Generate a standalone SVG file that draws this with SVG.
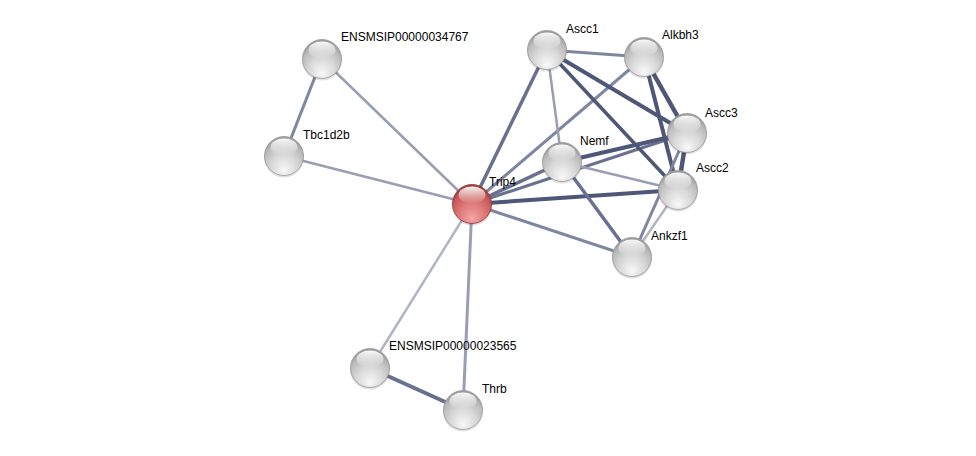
<svg xmlns="http://www.w3.org/2000/svg" xmlns:xlink="http://www.w3.org/1999/xlink" width="976" height="456" viewBox="0 0 976 456">
<defs>
<radialGradient id="gGray" cx="0.5" cy="0.72" r="0.66" fx="0.5" fy="0.88">
<stop offset="0" stop-color="#f8f8f8"/>
<stop offset="0.5" stop-color="#d8d8d8"/>
<stop offset="0.82" stop-color="#bcbcbc"/>
<stop offset="1" stop-color="#9c9c9c"/>
</radialGradient>
<radialGradient id="gRed" cx="0.5" cy="0.72" r="0.66" fx="0.5" fy="0.88">
<stop offset="0" stop-color="#f6a6a6"/>
<stop offset="0.5" stop-color="#de7878"/>
<stop offset="0.82" stop-color="#c85858"/>
<stop offset="1" stop-color="#a03c3c"/>
</radialGradient>
<linearGradient id="hl" x1="0" y1="0" x2="0" y2="1">
<stop offset="0" stop-color="#ffffff" stop-opacity="0.95"/>
<stop offset="1" stop-color="#ffffff" stop-opacity="0"/>
</linearGradient>
<g id="ballGray">
<circle cy="1.5" r="20" fill="#000000" fill-opacity="0.12"/>
<circle r="19.5" fill="url(#gGray)" stroke="#9a9a9a" stroke-width="0.8"/>
<ellipse cx="0" cy="-9" rx="13.5" ry="8.5" fill="url(#hl)"/>
</g>
<g id="ballRed">
<circle cy="1.5" r="20" fill="#000000" fill-opacity="0.12"/>
<circle r="19.5" fill="url(#gRed)" stroke="#943535" stroke-width="0.8"/>
<ellipse cx="0" cy="-9" rx="13.5" ry="8.5" fill="url(#hl)"/>
</g>
</defs>
<style>
text { font-family: "Liberation Sans", Arial, sans-serif; font-size: 12px; fill: #000; }
line { stroke-linecap: butt; }
.d { stroke: #4f5779; }
.m { stroke: #6a7190; }
.n { stroke: #7f86a2; }
.l { stroke: #999eb5; }
.x { stroke: #b0b4c6; }
</style>
<rect width="976" height="456" fill="#ffffff"/>
<g id="edges">
<line class="n" x1="322" y1="59" x2="284" y2="156" stroke-width="3"/>
<line class="l" x1="322" y1="59" x2="472" y2="204" stroke-width="2.5"/>
<line class="l" x1="284" y1="156" x2="472" y2="204" stroke-width="2.5"/>
<line class="m" x1="472" y1="204" x2="547" y2="50" stroke-width="3.5"/>
<line class="n" x1="472" y1="204" x2="644" y2="57" stroke-width="3"/>
<line class="m" x1="472" y1="204" x2="562" y2="162" stroke-width="3.5"/>
<line class="m" x1="472" y1="204" x2="687" y2="133" stroke-width="3"/>
<line class="d" x1="472" y1="204" x2="678" y2="190" stroke-width="4"/>
<line class="n" x1="472" y1="204" x2="632" y2="257" stroke-width="3"/>
<line class="x" x1="472" y1="204" x2="370" y2="368" stroke-width="2.5"/>
<line class="l" x1="472" y1="204" x2="463" y2="410" stroke-width="3"/>
<line class="m" x1="370" y1="368" x2="463" y2="410" stroke-width="4"/>
<line class="n" x1="547" y1="50" x2="644" y2="57" stroke-width="3"/>
<line class="d" x1="547" y1="50" x2="687" y2="133" stroke-width="4"/>
<line class="d" x1="547" y1="50" x2="678" y2="190" stroke-width="3.5"/>
<line class="l" x1="547" y1="50" x2="562" y2="162" stroke-width="2.5"/>
<line class="d" x1="644" y1="57" x2="687" y2="133" stroke-width="4.5"/>
<line class="d" x1="644" y1="57" x2="678" y2="190" stroke-width="4"/>
<line class="d" x1="562" y1="162" x2="687" y2="133" stroke-width="4"/>
<line class="l" x1="562" y1="162" x2="678" y2="190" stroke-width="2.5"/>
<line class="m" x1="562" y1="162" x2="632" y2="257" stroke-width="3.5"/>
<line class="d" x1="687" y1="133" x2="678" y2="190" stroke-width="4.5"/>
<line class="n" x1="687" y1="133" x2="632" y2="257" stroke-width="3"/>
<line class="x" x1="678" y1="190" x2="632" y2="257" stroke-width="2.5"/>
</g>
<g id="node-ENSMSIP00000034767"><use xlink:href="#ballGray" href="#ballGray" x="322" y="59"/><text x="341" y="41">ENSMSIP00000034767</text></g>
<g id="node-Tbc1d2b"><use xlink:href="#ballGray" href="#ballGray" x="284" y="156"/><text x="303" y="139">Tbc1d2b</text></g>
<g id="node-Ascc1"><use xlink:href="#ballGray" href="#ballGray" x="547" y="50"/><text x="566" y="33">Ascc1</text></g>
<g id="node-Alkbh3"><use xlink:href="#ballGray" href="#ballGray" x="644" y="57"/><text x="662" y="39">Alkbh3</text></g>
<g id="node-Ascc3"><use xlink:href="#ballGray" href="#ballGray" x="687" y="133"/><text x="705" y="117">Ascc3</text></g>
<g id="node-Nemf"><use xlink:href="#ballGray" href="#ballGray" x="562" y="162"/><text x="580" y="145">Nemf</text></g>
<g id="node-Ascc2"><use xlink:href="#ballGray" href="#ballGray" x="678" y="190"/><text x="696" y="172">Ascc2</text></g>
<g id="node-Ankzf1"><use xlink:href="#ballGray" href="#ballGray" x="632" y="257"/><text x="651" y="240">Ankzf1</text></g>
<g id="node-Trip4"><use xlink:href="#ballRed" href="#ballRed" x="472" y="204"/><text x="489" y="186">Trip4</text></g>
<g id="node-ENSMSIP00000023565"><use xlink:href="#ballGray" href="#ballGray" x="370" y="368"/><text x="389" y="350">ENSMSIP00000023565</text></g>
<g id="node-Thrb"><use xlink:href="#ballGray" href="#ballGray" x="463" y="410"/><text x="482" y="393">Thrb</text></g>
</svg>
